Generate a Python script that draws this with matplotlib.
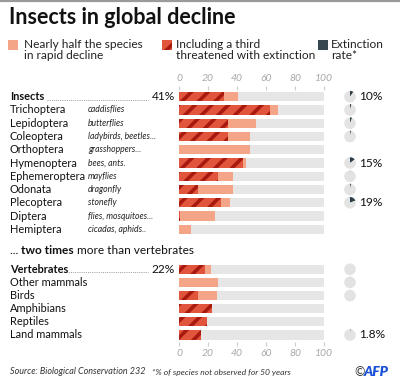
import matplotlib
matplotlib.use("Agg")
import matplotlib.pyplot as plt

plt.rcParams['font.family'] = ['Lato', 'DejaVu Sans']
plt.rcParams['hatch.linewidth'] = 2.6

W, H = 400, 384

# insects
ins_names = ["Insects", "Trichoptera", "Lepidoptera", "Coleoptera", "Orthoptera",
             "Hymenoptera", "Ephemeroptera", "Odonata", "Plecoptera", "Diptera", "Hemiptera"]
ins_common = ["", "caddisflies", "butterflies", "ladybirds, beetles...", "grasshoppers...",
              "bees, ants.", "mayflies", "dragonfly", "stonefly", "flies, mosquitoes...",
              "cicadas, aphids.."]
ins_decline = [41, 68, 53, 49, 49, 46, 37, 37, 35, 25, 8]
ins_threat = [31, 63, 34, 34, 0, 44, 27, 13, 29, 1, 0]
ins_extinct = [10, 4, 6, 3, None, 15, 1, 3, 19, None, None]
ins_extinct_lbl = ["10%", "", "", "", "", "15%", "", "", "19%", "", ""]

# vertebrates
ver_names = ["Vertebrates", "Other mammals", "Birds", "Amphibians", "Reptiles", "Land mammals"]
ver_decline = [22, 27, 26, 23, 19, 15]
ver_threat = [18, 0, 13, 23, 19, 15]
ver_extinct = [0.5, 1, 0.5, None, None, 1.8]
ver_extinct_lbl = ["", "", "", "", "", "1.8%"]

ticks = [0, 20, 40, 60, 80, 100]

LIGHT = "#F4A487"
HATCH_FC = "#E0553C"
HATCH_EC = "#A9190F"
BG = "#E6E6E6"
DARK = "#2F3E46"
GREY_TXT = "#A8A8A8"


def fx(px):
    return px / W


def fy(py):
    return 1 - py / H


fig = plt.figure(figsize=(4, 3.84), dpi=100)
fig.patch.set_facecolor("white")

# top border
fig.add_artist(plt.Line2D([0, 1], [fy(0.8), fy(0.8)], color="#9a9a9a", lw=1.6))

fig.text(fx(9), fy(18), "Insects in global decline", fontsize=15.5, fontweight="bold",
         va="center", ha="left", color="#111111")

# legend
def legend_square(x, y, **kw):
    a = fig.add_axes([fx(x), fy(y + 10), fx(10), 10 / H])
    a.bar([0], [1], width=1, **kw)
    a.set_xlim(-0.5, 0.5); a.set_ylim(0, 1); a.axis("off")

legend_square(8, 40, color=LIGHT)
legend_square(162, 40, facecolor=HATCH_FC, edgecolor=HATCH_EC, hatch="//", lw=0)
legend_square(318, 40, color="#37474F")
leg_kw = dict(fontsize=8.6, va="top", ha="left", color="#222222", linespacing=1.05)
fig.text(fx(24), fy(39), "Nearly half the species\nin rapid decline", **leg_kw)
fig.text(fx(176), fy(39), "Including a third\nthreatened with extinction", **leg_kw)
fig.text(fx(331), fy(39), "Extinction\nrate*", **leg_kw)


def draw_block(top_px, step, names, decline, threat, extinct, ext_lbl, tick_top, common=None):
    n = len(names)
    y0 = top_px - step / 2
    y1 = top_px + step * (n - 0.5)
    ax = fig.add_axes([fx(179), fy(y1), fx(324 - 179), (y1 - y0) / H])
    rows = list(range(n))
    ax.barh(rows, [100] * n, height=0.7, color=BG, lw=0)
    ax.barh(rows, decline, height=0.7, color=LIGHT, lw=0)
    ax.barh(rows, threat, height=0.7, facecolor=HATCH_FC, edgecolor=HATCH_EC,
            hatch="//", lw=0)
    ax.set_xlim(0, 100)
    ax.set_ylim(n - 0.5, -0.5)
    for s in ax.spines.values():
        s.set_visible(False)
    ax.set_yticks([])
    ax.set_xticks(ticks)
    ax.set_xticklabels([str(t) for t in ticks], fontstyle="italic", color=GREY_TXT, fontsize=7.5)
    if tick_top:
        ax.xaxis.tick_top()
    ax.tick_params(axis="x", length=3, color="#cccccc", width=0.8, pad=2)

    for i, name in enumerate(names):
        py = top_px + step * i
        bold = i == 0
        fig.text(fx(10), fy(py), name, fontsize=7.9, va="center", ha="left",
                 fontweight="bold" if bold else "normal", color="#111111")
        if common and common[i]:
            fig.text(fx(88), fy(py), common[i], fontsize=6.2, fontstyle="italic",
                     va="center", ha="left", color="#222222")
        if bold:
            pct = f"{decline[i]}%"
            fig.text(fx(175), fy(py), pct, fontsize=8.6, va="center", ha="right", color="#111111")
            start = 47 if names[i] == "Insects" else 64
            fig.add_artist(plt.Line2D([fx(start), fx(148)], [fy(py + 3), fy(py + 3)],
                                      color="#9a9a9a", lw=0.7, ls=(0, (1, 1.2))))
        r = 5.8
        if extinct[i] is not None:
            pa = fig.add_axes([fx(350 - r), fy(py + r), 2 * r / W, 2 * r / H])
            v = extinct[i]
            pa.pie([v, 100 - v], colors=[DARK, "#E3E3E3"], startangle=90,
                   counterclock=False, wedgeprops=dict(lw=0))
            pa.set_xlim(-1, 1); pa.set_ylim(-1, 1)
            pa.set_aspect("auto")
            pa.axis("off")
        if ext_lbl[i]:
            fig.text(fx(359), fy(py), ext_lbl[i], fontsize=8.6, va="center", ha="left",
                     color="#111111")
    return ax


draw_block(96.7, 13.26, ins_names, ins_decline, ins_threat, ins_extinct, ins_extinct_lbl,
           True, ins_common)

# subtitle with a bold middle part, placed piece by piece
renderer = fig.canvas.get_renderer()
x_cur = fx(10)
for part, wt in [("... ", "normal"), ("two times", "bold"), (" more than vertebrates", "normal")]:
    t = fig.text(x_cur, fy(250), part, fontsize=8.6, fontweight=wt, va="center", ha="left",
                 color="#111111")
    bb = t.get_window_extent(renderer=renderer)
    x_cur = bb.x1 / fig.bbox.width

draw_block(269.3, 13.14, ver_names, ver_decline, ver_threat, ver_extinct, ver_extinct_lbl, False)

fig.text(fx(10), fy(372), "Source: Biological Conservation 232", fontsize=6.5,
         fontstyle="italic", va="center", ha="left", color="#333333")
fig.text(fx(152), fy(372), "*% of species not observed for 50 years", fontsize=6.1,
         fontstyle="italic", va="center", ha="left", color="#333333")
fig.text(fx(354), fy(372), "©", fontsize=9, va="center", ha="left", color="#333333")
fig.text(fx(364), fy(372), "AFP", fontsize=10, fontweight="heavy", fontstyle="italic",
         va="center", ha="left", color="#1a4fd8")

fig.savefig("out.png", dpi=100)
